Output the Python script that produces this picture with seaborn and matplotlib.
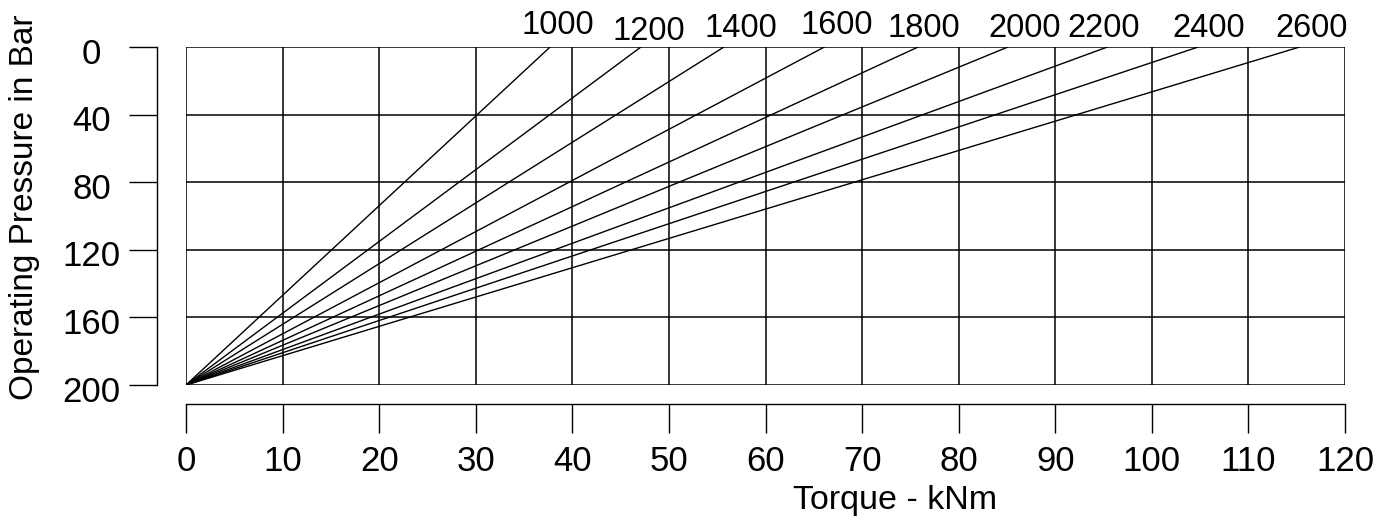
import pandas as pd
import matplotlib.pyplot as plt
import matplotlib.transforms as mtransforms
import seaborn as sns

# Speed curves: each line runs from full pressure at zero torque
# to zero pressure at its max torque
speeds = [1000, 1200, 1400, 1600, 1800, 2000, 2200, 2400, 2600]
max_torque = [37.7, 47.1, 55.7, 66.1, 75.8, 85.1, 95.4, 104.8, 115.3]
pressure_max = 200

x_ticks = list(range(0, 121, 10))
y_ticks = [0, 40, 80, 120, 160, 200]

sns.set_theme(style="white")
plt.rcParams["font.family"] = ["Liberation Sans", "DejaVu Sans"]
plt.rcParams["text.color"] = "black"
plt.rcParams["axes.labelcolor"] = "black"
plt.rcParams["xtick.color"] = "black"
plt.rcParams["ytick.color"] = "black"

rows = []
for s, t in zip(speeds, max_torque):
    rows.append({"rpm": s, "torque": 0.0, "pressure": pressure_max})
    rows.append({"rpm": s, "torque": t, "pressure": 0.0})
df = pd.DataFrame(rows)

fig = plt.figure(figsize=(13.91, 5.21), dpi=100)
ax = fig.add_axes([186 / 1391, 1 - 385 / 521, (1345 - 186) / 1391, (385 - 47) / 521])

sns.lineplot(
    data=df,
    x="torque",
    y="pressure",
    units="rpm",
    estimator=None,
    color="black",
    linewidth=1.0,
    ax=ax,
)

ax.set_xlim(0, 120)
ax.set_ylim(200, 0)
ax.set_xticks(x_ticks)
ax.set_yticks(y_ticks)
ax.grid(True, color="black", linewidth=1.1)
for gl in ax.get_xgridlines() + ax.get_ygridlines():
    gl.set_clip_on(False)

# label each curve near its top end
label_dx = [0.8, 0.8, 1.8, 1.3, 0.6, 1.7, -0.4, 1.1, 1.2]
label_dy = [9.1, 5.0, 7.4, 9.0, 7.4, 7.4, 7.4, 7.4, 7.4]
for s, t, dx, dy in zip(speeds, max_torque, label_dx, label_dy):
    ax.annotate(
        str(s),
        xy=(t + dx, 0),
        xytext=(0, dy),
        textcoords="offset points",
        ha="center",
        va="baseline",
        fontsize=23.5,
        annotation_clip=False,
    )

ax.set_xlabel("Torque - kNm", fontsize=24.5)
ax.set_ylabel("Operating Pressure in Bar", fontsize=24)
ax.xaxis.set_label_coords(0.612, -0.296)
ax.yaxis.set_label_coords(-0.126, 0.527)
ax.tick_params(axis="x", direction="out", length=21, width=1.0, labelsize=25,
               bottom=True, pad=8)
ax.tick_params(axis="y", direction="out", length=20, width=1.0, labelsize=25,
               left=True, pad=27)

sns.despine(ax=ax, offset={"left": 21, "bottom": 14}, trim=True)
for side in ["left", "bottom"]:
    ax.spines[side].set_color("black")
    ax.spines[side].set_linewidth(1.0)

# y tick labels are centred under each other, sitting a touch low
fig.canvas.draw()
shift = mtransforms.ScaledTranslation(0, -3.5 / 100, fig.dpi_scale_trans)
for tick in ax.yaxis.get_major_ticks():
    tick.label1.set_horizontalalignment("center")
    tick.label1.set_transform(tick.label1.get_transform() + shift)

fig.savefig("out.png", dpi=100, facecolor="white")
